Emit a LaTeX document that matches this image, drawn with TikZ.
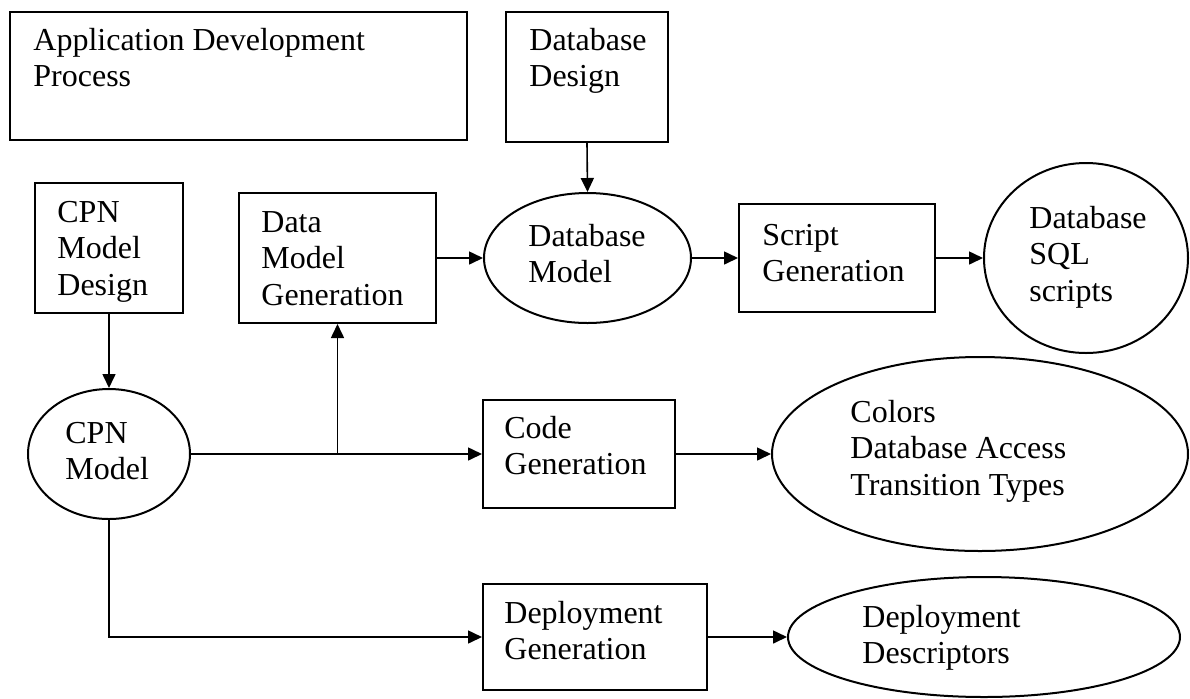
\documentclass[tikz,border=0pt]{standalone}
\usepackage{fontspec}
\setmainfont{Liberation Serif}
\usetikzlibrary{arrows.meta,shapes.geometric}

% left-aligned multi-line text whose reference point is the first baseline
\newcommand{\txtlines}[1]{\begin{tabular}[t]{@{}l@{}}#1\end{tabular}}

\begin{document}
\begin{tikzpicture}[x=0.5pt,y=-0.5pt,
  box/.style={draw,line width=1pt,rectangle,inner sep=0pt},
  blob/.style={draw,line width=1pt,ellipse,inner sep=0pt},
  txt/.style={anchor=base west,inner sep=0pt,font=\fontsize{16pt}{18.4pt}\selectfont},
  flow/.style={line width=0.8pt,-{Triangle[length=7pt,width=6.5pt]}}]

\useasboundingbox (0,0) rectangle (1190,698);

% process steps and artefacts
\node[box,minimum width=228.5pt,minimum height=64pt] (app) at (238.5,76) {};
\node[box,minimum width=81pt,minimum height=65pt] (dbdesign) at (587,77) {};
\node[box,minimum width=74pt,minimum height=65pt] (cpndesign) at (109,248) {};
\node[box,minimum width=98.5pt,minimum height=65pt] (datamodel) at (337.5,258) {};
\node[blob,minimum width=103.5pt,minimum height=65pt] (dbmodel) at (587.5,258) {};
\node[box,minimum width=98pt,minimum height=54pt] (script) at (837,258) {};
\node[blob,minimum width=102pt,minimum height=95pt] (sql) at (1086,258) {};
\node[blob,minimum width=81pt,minimum height=65pt] (cpnmodel) at (109,454) {};
\node[box,minimum width=96pt,minimum height=54pt] (code) at (579,454) {};
\node[blob,minimum width=208pt,minimum height=97pt] (colors) at (980,454) {};
\node[box,minimum width=112pt,minimum height=53pt] (deploy) at (595,637) {};
\node[blob,minimum width=196pt,minimum height=60pt] (descr) at (984,637) {};

% labels
\node[txt] (apptext) at (33,50) {\txtlines{Application Development\\Process}};
\node[txt] (dbdesigntext) at (529,50) {\txtlines{Database\\Design}};
\node[txt] (cpndesigntext) at (57,222) {\txtlines{CPN\\Model\\Design}};
\node[txt] (datamodeltext) at (261,232) {\txtlines{Data\\Model\\Generation}};
\node[txt] (dbmodeltext) at (528,246) {\txtlines{Database\\Model}};
\node[txt] (scripttext) at (762,245) {\txtlines{Script\\Generation}};
\node[txt] (sqltext) at (1029,228) {\txtlines{Database\\SQL\\scripts}};
\node[txt] (cpnmodeltext) at (65,443) {\txtlines{CPN\\Model}};
\node[txt] (codetext) at (504,438) {\txtlines{Code\\Generation}};
\node[txt] (colorstext) at (850,422) {\txtlines{Colors\\Database Access\\Transition Types}};
\node[txt] (deploytext) at (504,623) {\txtlines{Deployment\\Generation}};
\node[txt] (descrtext) at (862,627) {\txtlines{Deployment\\Descriptors}};

% connectors
\draw[flow] (dbdesign.south) -- (dbmodel.north);
\draw[flow] (datamodel.east) -- (dbmodel.west);
\draw[flow] (dbmodel.east) -- (script.west);
\draw[flow] (script.east) -- (sql.west);
\draw[flow] (cpndesign.south) -- (cpnmodel.north);
\draw[flow] (cpnmodel.east) -- (code.west);
\coordinate (split) at (datamodel.south |- cpnmodel.east);
\draw[flow] (split) -- (datamodel.south);
\draw[flow] (code.east) -- (colors.west);
\draw[flow] (cpnmodel.south) |- (deploy.west);
\draw[flow] (deploy.east) -- (descr.west);
\end{tikzpicture}
\end{document}
